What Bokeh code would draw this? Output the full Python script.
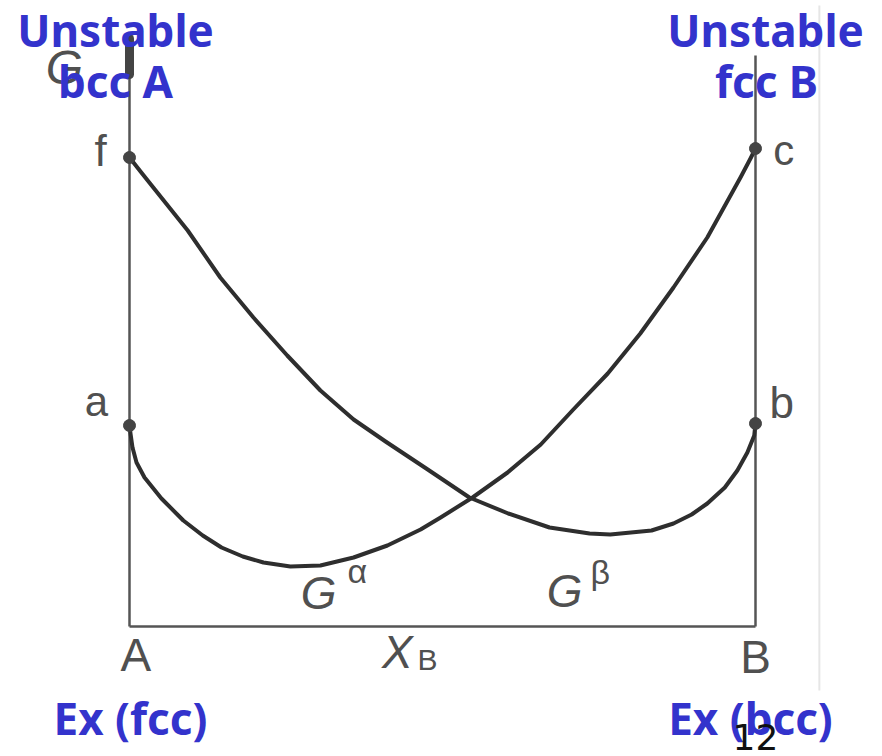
from bokeh.plotting import figure
from bokeh.models import Label, Range1d
from bokeh.embed import file_html
from bokeh.resources import INLINE

# ---- data (X_B composition, free energy G in arbitrary units) ----
xb_alpha = [0.0, 0.0016, 0.0048, 0.0112, 0.024, 0.051, 0.086, 0.117, 0.147, 0.181,
            0.214, 0.257, 0.305, 0.358, 0.412, 0.465, 0.497, 0.548, 0.604, 0.657,
            0.709, 0.764, 0.816, 0.869, 0.923, 0.976, 0.992, 1.0]
g_alpha = [2.01, 1.93, 1.79, 1.64, 1.49, 1.28, 1.06, 0.91, 0.79, 0.70,
           0.64, 0.60, 0.61, 0.69, 0.81, 0.97, 1.09, 1.29, 1.54, 1.82,
           2.17, 2.53, 2.93, 3.39, 3.89, 4.49, 4.68, 4.78]

xb_beta = [0.0, 0.0176, 0.038, 0.093, 0.145, 0.198, 0.252, 0.305, 0.358, 0.409,
           0.474, 0.543, 0.605, 0.671, 0.735, 0.768, 0.834, 0.869, 0.898, 0.923,
           0.951, 0.971, 0.987, 0.998, 1.0]
g_beta = [4.69, 4.55, 4.39, 3.96, 3.49, 3.09, 2.71, 2.36, 2.07, 1.85,
          1.58, 1.29, 1.13, 0.99, 0.93, 0.92, 0.96, 1.03, 1.12, 1.23,
          1.39, 1.56, 1.74, 1.91, 2.03]

point_names = ["f", "a", "c", "b"]
point_x = [0.0, 0.0, 1.0, 1.0]
point_g = [4.69, 2.01, 4.78, 2.03]

g_axis_top = 5.86
g_right_top = 5.71

blue_top_left = ["Unstable", "bcc A"]
blue_top_right = ["Unstable", "fcc B"]
blue_bottom = ["Ex (fcc)", "Ex (bcc)"]

# ---- figure ----
p = figure(width=882, height=756,
           x_range=Range1d(-0.20607, 1.20288), y_range=Range1d(-1.30, 6.26),
           output_backend="svg", toolbar_location=None,
           x_axis_location=None, y_axis_location=None, min_border=0)
p.grid.visible = False
p.outline_line_color = None
p.background_fill_color = "white"
p.border_fill_color = "white"

AX = "#555555"
CV = "#2e2e2e"

# faint slide border line
p.segment(x0=[1.102], y0=[6.21], x1=[1.102], y1=[-0.64], line_color="#e6e6e6", line_width=2)

# axes frame
p.segment(x0=[0.0], y0=[0.0], x1=[0.0], y1=[g_axis_top], line_color=AX, line_width=2.5)
p.segment(x0=[1.0], y0=[0.0], x1=[1.0], y1=[g_right_top], line_color=AX, line_width=2.5)
p.segment(x0=[0.0], y0=[0.0], x1=[1.0], y1=[0.0], line_color=AX, line_width=2.5)
# arrow head of G axis
p.segment(x0=[0.0], y0=[5.52], x1=[0.0], y1=[5.88], line_color="#444444", line_width=9, line_cap="round")

# curves
p.line(xb_alpha, g_alpha, line_color=CV, line_width=4, line_join="round")
p.line(xb_beta, g_beta, line_color=CV, line_width=4, line_join="round")

# end points
p.scatter(point_x, point_g, size=12, color="#444444")

GRAY = "#505050"
SF = "Liberation Sans"
DY = 0.21  # label baseline correction

def lab(x, y, t, size, color=GRAY, font=SF, style="normal", align="center"):
    p.add_layout(Label(x=x, y=y + DY, text=t, text_font=font, text_font_size=size,
                       text_color=color, text_font_style=style,
                       text_align=align, text_baseline="alphabetic"))

# point letters
lab(-0.046, 4.55, point_names[0], "44px")
lab(-0.053, 2.04, point_names[1], "42px")
lab(1.045, 4.55, point_names[2], "42px")
lab(1.042, 2.03, point_names[3], "44px")

# axis labels
lab(-0.104, 5.38, "G", "48px", style="italic")
lab(0.010, -0.49, "A", "46px")
lab(1.0, -0.51, "B", "46px")
lab(0.428, -0.46, "X", "46px", style="italic")
lab(0.476, -0.54, "B", "30px")

# curve labels
lab(0.302, 0.13, "G", "46px", style="italic")
lab(0.364, 0.35, "α", "34px")
lab(0.695, 0.15, "G", "46px", style="italic")
lab(0.752, 0.34, "β", "34px")

# blue annotations
BLUE = "#3333cc"
BF = "Noto Sans"
lab(-0.0224, 5.76, blue_top_left[0], "44px", BLUE, BF, "bold")
lab(-0.0224, 5.25, blue_top_left[1], "44px", BLUE, BF, "bold")
lab(1.016, 5.76, blue_top_right[0], "44px", BLUE, BF, "bold")
lab(1.0176, 5.25, blue_top_right[1], "44px", BLUE, BF, "bold")
lab(0.0016, -1.12, blue_bottom[0], "44px", BLUE, BF, "bold")
lab(0.992, -1.12, blue_bottom[1], "44px", BLUE, BF, "bold")

# slide number
lab(1.0, -1.31, "12", "36px", "#111111", "DejaVu Sans")

open("out.html", "w").write(file_html(p, INLINE))
